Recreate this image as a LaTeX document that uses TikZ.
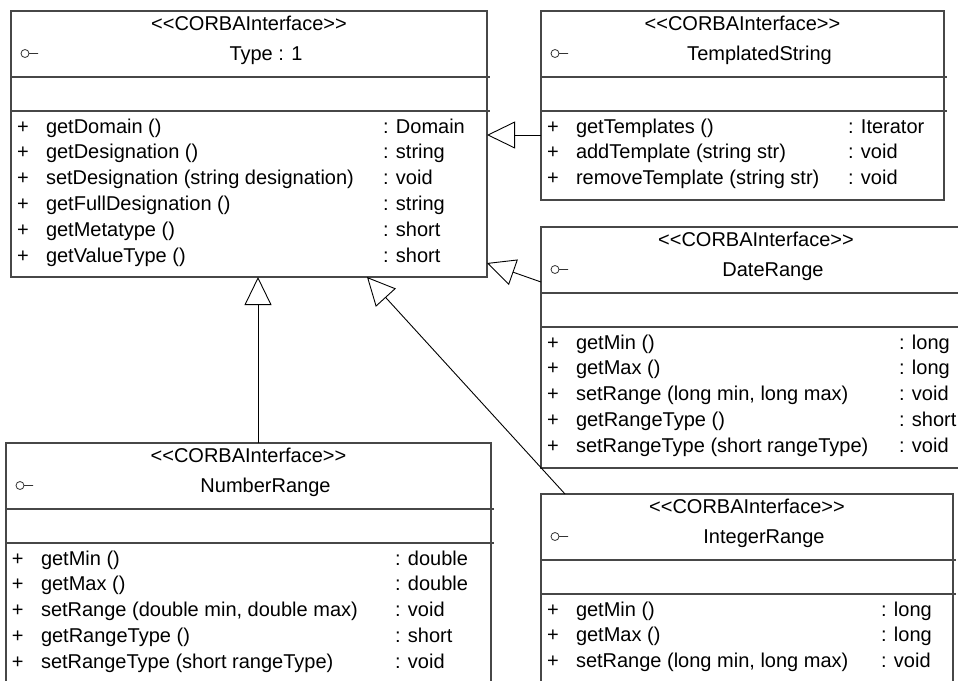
\documentclass[tikz,border=0pt]{standalone}
\usepackage{fontspec}
\newfontfamily\umlfont{Liberation Sans}
\usetikzlibrary{arrows.meta}

% stereotype label; the zero kerns keep << and >> as plain characters
\newcommand\stereotxt{<\kern0pt<CORBAInterface>\kern0pt>}

\tikzset{
  classbox/.style={draw=black!72, line width=1.2pt, fill=white,
    inner sep=0pt, outer sep=0pt, anchor=north west},
  compline/.style={draw=black!72, line width=1.2pt},
  umltext/.style={inner sep=0pt, outer sep=0pt, anchor=base west,
    font=\umlfont\fontsize{20}{24}\selectfont},
  headtext/.style={umltext, anchor=base},
  iface/.style={draw=black!80, line width=0.8pt},
  realize/.style={draw=black, line width=0.9pt,
    -{Triangle[open, length=28pt, width=27pt]}},
}

% interface box: #1 name, #2 left, #3 top, #4 width, #5 height, #6 title
\newcommand\classframe[6]{%
  \node[classbox, minimum width=#4pt, minimum height=#5pt] (#1) at (#2,#3) {};
  \draw[compline] ([yshift=-66pt]#1.north west) -- ++(#4+3,0);
  \draw[compline] ([yshift=-100pt]#1.north west) -- ++(#4+3,0);
  \node[headtext] (#1-st) at ([yshift=-19.5pt]#1.north) {\stereotxt};
  \node[headtext] (#1-nm) at ([xshift=17pt,yshift=-49pt]#1.north) {#6};
  \draw[iface] ([xshift=14pt,yshift=-42.5pt]#1.north west)
    circle[radius=4pt] ++(4,0) -- ++(9,0);
}

% operation row: #1 id, #2 box, #3 row number, #4 return column offset,
% #5 operation, #6 return type
\newcommand\oprow[6]{%
  \node[umltext] (#1-p) at ([xshift=6pt,yshift={-122pt-(#3-1)*25.8pt}]#2.north west) {+};
  \node[umltext] (#1-o) at ([xshift=35pt,yshift={-122pt-(#3-1)*25.8pt}]#2.north west) {#5};
  \node[umltext] (#1-r) at ([xshift=#4pt,yshift={-122pt-(#3-1)*25.8pt}]#2.north west) {#6};
}

\begin{document}
\begin{tikzpicture}[x=1pt, y=-1pt]
\path[use as bounding box] (0,0) rectangle (958,680);
\fill[white] (0,0) rectangle (958,680);
\clip (0,0) rectangle (958,680);

% Type
\classframe{type}{11}{11}{476}{266}{Type : 1}
\oprow{type1}{type}{1}{372}{getDomain ()}{: Domain}
\oprow{type2}{type}{2}{372}{getDesignation ()}{: string}
\oprow{type3}{type}{3}{372}{setDesignation (string designation)}{: void}
\oprow{type4}{type}{4}{372}{getFullDesignation ()}{: string}
\oprow{type5}{type}{5}{372}{getMetatype ()}{: short}
\oprow{type6}{type}{6}{372}{getValueType ()}{: short}

% TemplatedString
\classframe{ts}{541}{11}{403}{189}{TemplatedString}
\oprow{ts1}{ts}{1}{307}{getTemplates ()}{: Iterator}
\oprow{ts2}{ts}{2}{307}{addTemplate (string str)}{: void}
\oprow{ts3}{ts}{3}{307}{removeTemplate (string str)}{: void}

% DateRange
\classframe{dr}{541}{227}{430}{241}{DateRange}
\oprow{dr1}{dr}{1}{358}{getMin ()}{: long}
\oprow{dr2}{dr}{2}{358}{getMax ()}{: long}
\oprow{dr3}{dr}{3}{358}{setRange (long min, long max)}{: void}
\oprow{dr4}{dr}{4}{358}{getRangeType ()}{: short}
\oprow{dr5}{dr}{5}{358}{setRangeType (short rangeType)}{: void}

% NumberRange
\classframe{nr}{6}{443}{485}{240}{NumberRange}
\oprow{nr1}{nr}{1}{389}{getMin ()}{: double}
\oprow{nr2}{nr}{2}{389}{getMax ()}{: double}
\oprow{nr3}{nr}{3}{389}{setRange (double min, double max)}{: void}
\oprow{nr4}{nr}{4}{389}{getRangeType ()}{: short}
\oprow{nr5}{nr}{5}{389}{setRangeType (short rangeType)}{: void}

% IntegerRange
\classframe{ir}{541}{494}{412}{189}{IntegerRange}
\oprow{ir1}{ir}{1}{340}{getMin ()}{: long}
\oprow{ir2}{ir}{2}{340}{getMax ()}{: long}
\oprow{ir3}{ir}{3}{340}{setRange (long min, long max)}{: void}

% realizations towards Type
\draw[realize] ([yshift=-124pt]ts.north west) -- ([yshift=-124pt]type.north east);
\draw[realize] ([yshift=-55pt]dr.north west) -- ([yshift=-252pt]type.north east);
\draw[realize] ([xshift=252pt]nr.north west) -- ([xshift=247pt]type.south west);
\draw[realize] ([xshift=24pt]ir.north west) -- ([xshift=356pt]type.south west);
\end{tikzpicture}
\end{document}
